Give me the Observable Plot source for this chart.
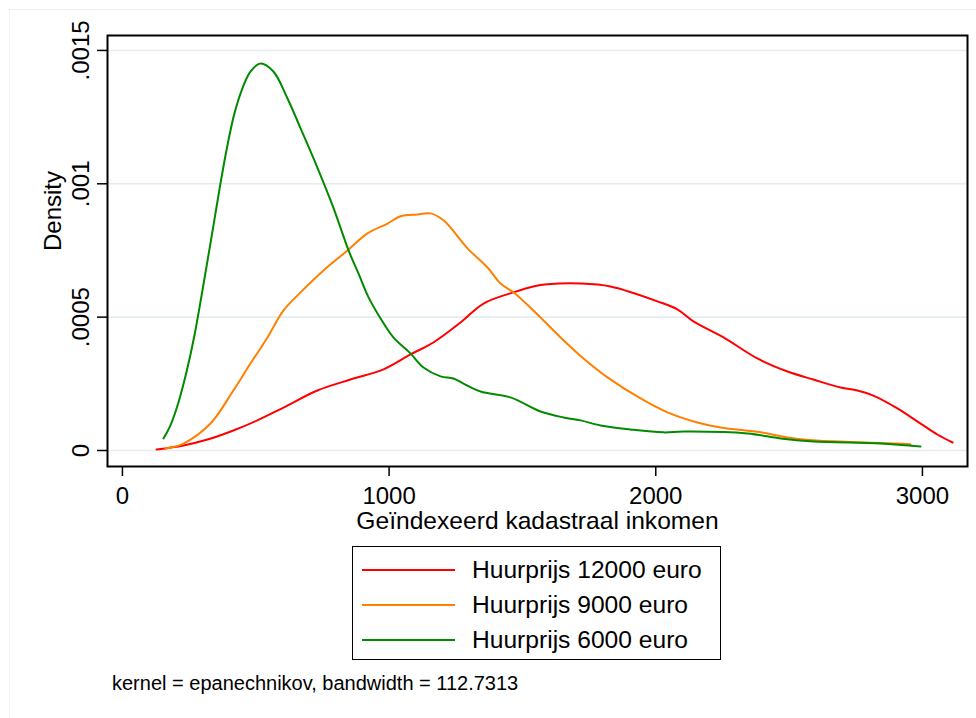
<!DOCTYPE html>
<html>
<head>
<meta charset="utf-8">
<script src="https://cdn.jsdelivr.net/npm/d3@7"></script>
<script src="https://cdn.jsdelivr.net/npm/@observablehq/plot@0.6"></script>
<style>
  body { margin: 0; background: #fff; font-family: "Liberation Sans", Arial, sans-serif; }
  #page { position: relative; width: 976px; height: 718px; overflow: hidden; background: #fff; }
  #region { position: absolute; left: 9px; top: 9px; width: 1000px; height: 1000px;
            border-left: 1px solid #eef1f4; border-top: 1px solid #eef1f4; }
  #chart { position: absolute; left: 0; top: 0; }
  #legend { position: absolute; left: 352px; top: 546px; width: 367px; height: 112px;
            border: 1.5px solid #000; background: #fff; }
  .row { position: absolute; left: 0; height: 34px; display: flex; align-items: center; }
  .row svg { margin-left: 9px; }
  .row span { margin-left: 17px; font-size: 24.6px; color: #000; white-space: nowrap; }
  #caption { position: absolute; left: 112px; top: 672px; font-size: 20px; color: #000; white-space: nowrap; }
</style>
</head>
<body>
<div id="page">
  <div id="region"></div>
  <div id="chart"></div>
  <div id="legend"></div>
  <div id="caption"></div>
</div>
<script>
// Kernel density estimates of the indexed cadastral income, per rent level: [income, density]
const huur12000 = [
  [128, 0.0000038], [229, 0.000019], [319, 0.000041], [416, 0.000075], [506, 0.000113],
  [604, 0.000161], [731, 0.000225], [855, 0.000266], [979, 0.000304], [1080, 0.00036],
  [1166, 0.000405], [1268, 0.00048], [1354, 0.000551], [1466, 0.000593], [1541, 0.000615],
  [1594, 0.000623], [1718, 0.000626], [1830, 0.000615], [2018, 0.000555], [2081, 0.000529],
  [2141, 0.000484], [2254, 0.000424], [2381, 0.000345], [2494, 0.000296], [2591, 0.000266],
  [2693, 0.000236], [2756, 0.000225], [2816, 0.000206], [2906, 0.000158], [2993, 0.000101],
  [3056, 0.00006], [3113, 0.00003]
];
const huur9000 = [
  [161, 0.0000075], [229, 0.000026], [330, 0.000101], [416, 0.000225], [480, 0.000326],
  [544, 0.000424], [604, 0.000525], [668, 0.000593], [754, 0.000675], [844, 0.00075],
  [919, 0.000814], [994, 0.000851], [1043, 0.000878], [1106, 0.000885], [1155, 0.000889],
  [1204, 0.000863], [1294, 0.000758], [1369, 0.000686], [1418, 0.000626], [1466, 0.000593],
  [1541, 0.000525], [1643, 0.000424], [1729, 0.000345], [1819, 0.000274], [1943, 0.000195],
  [2044, 0.000143], [2156, 0.000105], [2243, 0.000086], [2393, 0.000068], [2494, 0.000049],
  [2591, 0.000038], [2779, 0.00003], [2906, 0.000026], [2955, 0.000023]
];
const huur6000 = [
  [154, 0.000045], [180, 0.000094], [210, 0.00018], [240, 0.000293], [270, 0.000431],
  [300, 0.0006], [330, 0.000776], [360, 0.000956], [390, 0.001125], [420, 0.001264],
  [450, 0.001358], [480, 0.001421], [518, 0.001451], [566, 0.001421], [619, 0.00132],
  [668, 0.001208], [731, 0.001061], [791, 0.000911], [848, 0.00075], [885, 0.000664],
  [923, 0.000574], [968, 0.000495], [1016, 0.000424], [1080, 0.000364], [1129, 0.000311],
  [1193, 0.000278], [1241, 0.00027], [1279, 0.000251], [1343, 0.000221], [1455, 0.000199],
  [1568, 0.000146], [1654, 0.000124], [1718, 0.000113], [1793, 0.000094], [1905, 0.000079],
  [2029, 0.000068], [2104, 0.000071], [2344, 0.000064], [2468, 0.000045], [2591, 0.000034],
  [2843, 0.000026], [2993, 0.000015]
];

const seriesNames = ["Huurprijs 12000 euro", "Huurprijs 9000 euro", "Huurprijs 6000 euro"];
const seriesColors = ["#ff0000", "#ff8000", "#008a00"];
const xTicks = [0, 1000, 2000, 3000];
const yTicks = [0, 0.0005, 0.001, 0.0015];
const xTitle = "Geïndexeerd kadastraal inkomen";
const yTitle = "Density";
const captionText = "kernel = epanechnikov, bandwidth = 112.7313";

const rows = [huur12000, huur9000, huur6000].flatMap((s, i) =>
  s.map(([income, density]) => ({series: seriesNames[i], income, density})));

const font = "Liberation Sans, Arial, sans-serif";

const chart = Plot.plot({
  width: 976,
  height: 540,
  marginLeft: 107,
  marginRight: 9,
  marginTop: 35,
  marginBottom: 74,
  style: {fontFamily: font, fontSize: "24px", color: "#000", background: "transparent"},
  x: {domain: [-56, 3169]},
  y: {domain: [-0.00006, 0.001556]},
  color: {domain: seriesNames, range: seriesColors},
  marks: [
    Plot.gridY(yTicks, {stroke: "#e4ecf0", strokeOpacity: 1, strokeWidth: 1.6}),
    Plot.line(rows, {x: "income", y: "density", z: "series", stroke: "series",
      strokeWidth: 2, curve: "catmull-rom"}),
    Plot.frame({stroke: "#000", strokeWidth: 2}),
    Plot.axisX(xTicks, {tickSize: 10, tickPadding: 10, strokeWidth: 1.5,
      fontSize: 24, tickFormat: d => String(d), label: null}),
    Plot.axisY(yTicks, {tickSize: 10, tickPadding: 9, tickRotate: -90, strokeWidth: 1.5,
      fontSize: 24, tickFormat: d => d === 0 ? "0" : String(d).replace(/^0/, ""), label: null}),
    Plot.text([xTitle], {frameAnchor: "bottom", dy: 62, lineAnchor: "bottom", fontSize: 24.6}),
    Plot.text([yTitle], {frameAnchor: "left", dx: -47, rotate: -90, lineAnchor: "bottom", fontSize: 24})
  ]
});
document.getElementById("chart").appendChild(chart);

// Legend: a short line sample beside each series name
const legend = document.getElementById("legend");
seriesNames.forEach((name, i) => {
  const row = document.createElement("div");
  row.className = "row";
  row.style.top = (6 + i * 35) + "px";
  row.innerHTML = `<svg width="93" height="6"><line x1="0" x2="93" y1="3" y2="3" stroke="${seriesColors[i]}" stroke-width="2"/></svg><span>${name}</span>`;
  legend.appendChild(row);
});

document.getElementById("caption").textContent = captionText;
</script>
</body>
</html>
